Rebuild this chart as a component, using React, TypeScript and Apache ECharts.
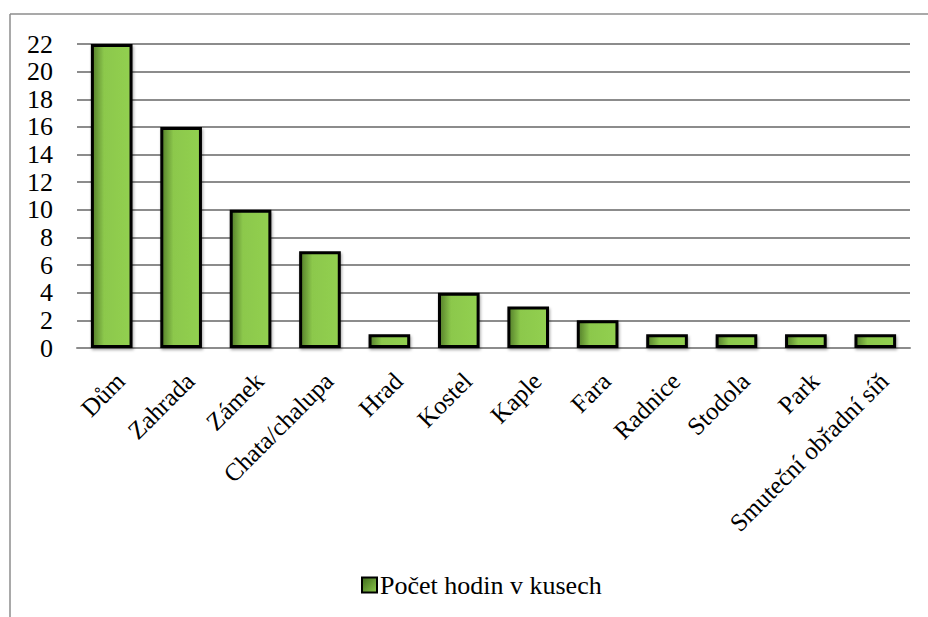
import React, { useEffect, useRef } from "react";
import * as echarts from "echarts";

const categories = ["Dům", "Zahrada", "Zámek", "Chata/chalupa", "Hrad", "Kostel", "Kaple", "Fara", "Radnice", "Stodola", "Park", "Smuteční obřadní síň"];
const values = [22, 16, 10, 7, 1, 4, 3, 2, 1, 1, 1, 1];
const seriesName = "Počet hodin v kusech";

export default function App() {
  const ref = useRef<HTMLDivElement>(null);
  useEffect(() => {
    const chart = echarts.init(ref.current!, null, { renderer: "svg" });
    const font = "'Liberation Serif', 'Times New Roman', serif";
    const barFill = new echarts.graphic.LinearGradient(0, 0, 1, 0, [
      { offset: 0, color: "#557f2a" },
      { offset: 0.3, color: "#8cc84c" },
      { offset: 1, color: "#92d050" },
    ]);
    chart.setOption({
      animation: false,
      backgroundColor: "#ffffff",
      textStyle: { fontFamily: font },
      grid: { left: 77, right: 18, top: 44, bottom: 269, containLabel: false },
      xAxis: {
        type: "category",
        data: categories,
        axisLine: { show: true, lineStyle: { color: "#8c8c8c", width: 2 } },
        axisTick: { show: false },
        axisLabel: { rotate: 45, fontSize: 25, color: "#000", fontFamily: font, margin: 20, interval: 0, verticalAlign: "top" },
      },
      yAxis: {
        type: "value",
        min: 0,
        max: 22,
        interval: 2,
        axisLine: { show: false },
        axisTick: { show: false },
        splitLine: { lineStyle: { color: "#8c8c8c", width: 2 } },
        axisLabel: { fontSize: 26, color: "#000", fontFamily: font, margin: 24 },
      },
      legend: {
        bottom: 14,
        left: 356,
        itemWidth: 15,
        itemHeight: 15,
        itemGap: 4,
        icon: "rect",
        textStyle: { fontSize: 26, color: "#000", fontFamily: font, padding: [0, 0, 0, -2] },
        data: [
          {
            name: seriesName,
            itemStyle: {
              color: new echarts.graphic.LinearGradient(0, 0, 1, 1, [
                { offset: 0, color: "#3f6a1c" },
                { offset: 1, color: "#8cc84c" },
              ]),
              borderColor: "#000",
              borderWidth: 2,
            },
          },
        ],
      },
      graphic: [
        { type: "line", shape: { x1: 10, y1: 14, x2: 928, y2: 14 }, style: { stroke: "#8c8c8c", lineWidth: 1.5 } },
        { type: "line", shape: { x1: 10, y1: 14, x2: 10, y2: 617 }, style: { stroke: "#8c8c8c", lineWidth: 1.5 } },
      ],
      series: [
        {
          name: seriesName,
          type: "bar",
          data: values,
          barWidth: "60%",
          itemStyle: {
            color: barFill,
            borderColor: "#000",
            borderWidth: 3,
            shadowColor: "rgba(0,0,0,0.35)",
            shadowBlur: 3,
            shadowOffsetX: 1,
            shadowOffsetY: 2,
          },
        },
      ],
    });
    return () => chart.dispose();
  }, []);
  return <div ref={ref} style={{ position: "absolute", left: 0, top: 0, width: 928, height: 617 }} />;
}
